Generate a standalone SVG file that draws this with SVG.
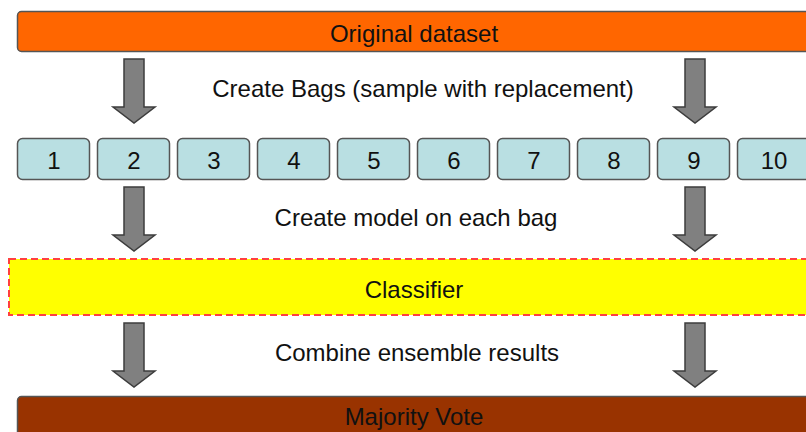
<svg xmlns="http://www.w3.org/2000/svg" width="806" height="432" viewBox="0 0 806 432">
<defs>
<style>
text{font-family:"Liberation Sans",Arial,sans-serif;font-size:24px;fill:#111;text-anchor:middle}
.bag{fill:#b9dfe2;stroke:#555;stroke-width:1.5}
.arrow{fill:#808080;stroke:#3c3c3c;stroke-width:1.5;stroke-linejoin:miter}
</style>
<polygon id="arr" class="arrow" points="-10,0 10,0 10,48 21,48 0,64 -21,48 -10,48"/>
</defs>
<rect width="806" height="432" fill="#fff"/>
<g id="original">
<rect x="17.5" y="11.5" width="800" height="40" rx="4" fill="#ff6600" stroke="#555" stroke-width="1.5"/>
<text x="414" y="42">Original dataset</text>
</g>
<g id="bags">
<g id="bag1"><rect class="bag" x="17.5" y="138.5" width="72" height="41" rx="5"/><text x="54" y="169">1</text></g>
<g id="bag2"><rect class="bag" x="97.5" y="138.5" width="72" height="41" rx="5"/><text x="134" y="169">2</text></g>
<g id="bag3"><rect class="bag" x="177.5" y="138.5" width="72" height="41" rx="5"/><text x="214" y="169">3</text></g>
<g id="bag4"><rect class="bag" x="257.5" y="138.5" width="72" height="41" rx="5"/><text x="294" y="169">4</text></g>
<g id="bag5"><rect class="bag" x="337.5" y="138.5" width="72" height="41" rx="5"/><text x="374" y="169">5</text></g>
<g id="bag6"><rect class="bag" x="417.5" y="138.5" width="72" height="41" rx="5"/><text x="454" y="169">6</text></g>
<g id="bag7"><rect class="bag" x="497.5" y="138.5" width="72" height="41" rx="5"/><text x="534" y="169">7</text></g>
<g id="bag8"><rect class="bag" x="577.5" y="138.5" width="72" height="41" rx="5"/><text x="614" y="169">8</text></g>
<g id="bag9"><rect class="bag" x="657.5" y="138.5" width="72" height="41" rx="5"/><text x="694" y="169">9</text></g>
<g id="bag10"><rect class="bag" x="737.5" y="138.5" width="80" height="41" rx="5"/><text x="774" y="169">10</text></g>
</g>
<g id="classifier">
<rect x="9" y="259" width="810" height="56" fill="#ffff00" stroke="#ff4040" stroke-width="2" stroke-dasharray="7,4"/>
<text x="414" y="298">Classifier</text>
</g>
<g id="vote">
<rect x="17.5" y="396.5" width="800" height="50" rx="4" fill="#993300" stroke="#555" stroke-width="1.5"/>
<text x="414" y="425">Majority Vote</text>
</g>
<g id="connectors">
<use href="#arr" x="134" y="59"/>
<use href="#arr" x="695" y="59"/>
<use href="#arr" x="134" y="187"/>
<use href="#arr" x="695" y="187"/>
<use href="#arr" x="134" y="323"/>
<use href="#arr" x="695" y="323"/>
<text x="423" y="97">Create Bags (sample with replacement)</text>
<text x="416" y="226">Create model on each bag</text>
<text x="417" y="361">Combine ensemble results</text>
</g>
</svg>
